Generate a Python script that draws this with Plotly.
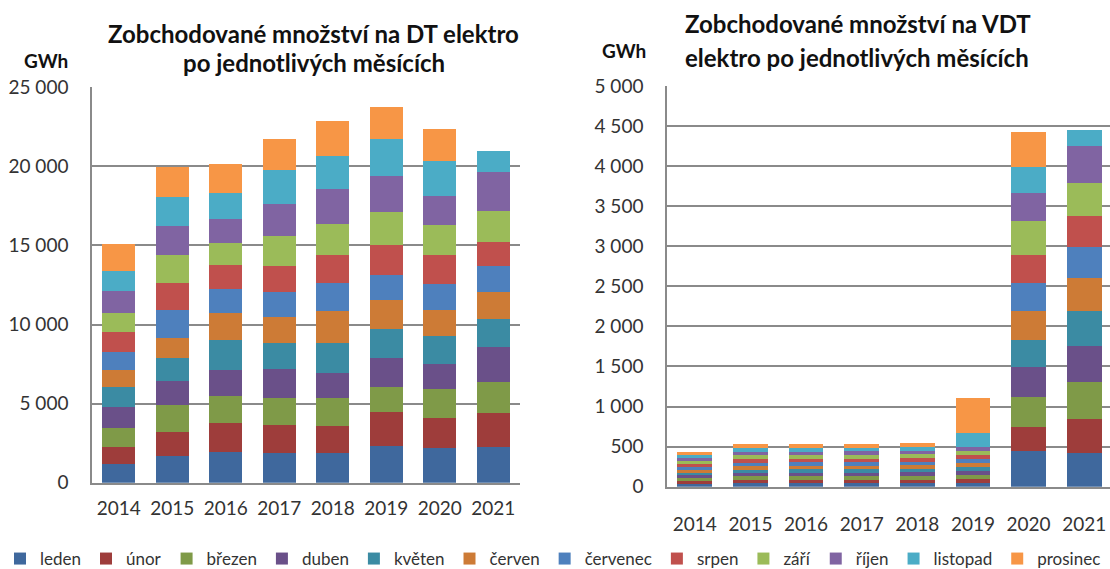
import plotly.graph_objects as go

# ---------------- data ----------------
years = ['2014', '2015', '2016', '2017', '2018', '2019', '2020', '2021']
months = ['leden', 'únor', 'březen', 'duben', 'květen', 'červen',
          'červenec', 'srpen', 'září', 'říjen', 'listopad', 'prosinec']
colors = ['#3F689D', '#9E3D3B', '#7F9A48', '#6A5089', '#3B8BA3', '#CD7B36',
          '#4E80BD', '#C0504D', '#9BBB59', '#8064A2', '#4BACC6', '#F79646']

# DT elektro (GWh), one list per month, values for 2014..2021
dt_leden    = [1160, 1688, 1962, 1878, 1878, 2321, 2194, 2258]
dt_unor     = [1118, 1519, 1836, 1772, 1709, 2131, 1920, 2131]
dt_brezen   = [1182, 1709, 1709, 1730, 1794, 1583, 1836, 2005]
dt_duben    = [1308, 1519, 1646, 1836, 1561, 1836, 1583, 2173]
dt_kveten   = [1266, 1435, 1899, 1646, 1899, 1857, 1730, 1794]
dt_cerven   = [1118, 1308, 1667, 1646, 2005, 1836, 1646, 1667]
dt_cervenec = [1118, 1751, 1519, 1519, 1772, 1583, 1667, 1646]
dt_srpen    = [1245, 1688, 1498, 1646, 1794, 1857, 1836, 1519]
dt_zari     = [1203, 1794, 1414, 1899, 1962, 2089, 1899, 1962]
dt_rijen    = [1372, 1836, 1519, 2047, 2194, 2321, 1836, 2490]
dt_listopad = [1266, 1794, 1646, 2131, 2110, 2321, 2194, 1308]
dt_prosinec = [1730, 1920, 1836, 1983, 2173, 2026, 2026, None]

# VDT elektro (GWh), one list per month, values for 2014..2021
vdt_leden    = [36, 45, 46, 44, 45, 48, 445, 416]
vdt_unor     = [34, 42, 43, 42, 44, 47, 300, 428]
vdt_brezen   = [38, 44, 44, 45, 46, 50, 370, 458]
vdt_duben    = [35, 42, 42, 44, 43, 49, 374, 458]
vdt_kveten   = [33, 40, 44, 43, 45, 48, 337, 437]
vdt_cerven   = [35, 42, 42, 42, 44, 50, 370, 404]
vdt_cervenec = [37, 46, 45, 45, 45, 51, 341, 387]
vdt_srpen    = [38, 44, 43, 44, 44, 50, 358, 391]
vdt_zari     = [36, 47, 42, 46, 47, 52, 424, 408]
vdt_rijen    = [38, 46, 44, 45, 46, 54, 349, 470]
vdt_listopad = [37, 50, 47, 48, 47, 166, 316, 196]
vdt_prosinec = [40, 40, 46, 40, 45, 437, 445, None]

dt_series = [dt_leden, dt_unor, dt_brezen, dt_duben, dt_kveten, dt_cerven,
             dt_cervenec, dt_srpen, dt_zari, dt_rijen, dt_listopad, dt_prosinec]
vdt_series = [vdt_leden, vdt_unor, vdt_brezen, vdt_duben, vdt_kveten, vdt_cerven,
              vdt_cervenec, vdt_srpen, vdt_zari, vdt_rijen, vdt_listopad, vdt_prosinec]

title_dt_1 = 'Zobchodované množství na DT elektro'
title_dt_2 = 'po jednotlivých měsících'
title_vdt_1 = 'Zobchodované množství na VDT'
title_vdt_2 = 'elektro po jednotlivých měsících'
unit = 'GWh'

# ---------------- layout helpers ----------------
W, H = 1300, 620          # page is clipped to the 1110x569 window


def px(x):
    return x / W


def py(y):
    return 1 - y / H


FONT = 'Lato'
GRID = '#8A8A8A'
TXT = '#333333'

fig = go.Figure()

for name, col, dt, vdt in zip(months, colors, dt_series, vdt_series):
    fig.add_trace(go.Bar(x=years, y=dt, name=name, marker=dict(color=col, line=dict(width=0)),
                         legendgroup=name, xaxis='x', yaxis='y'))
    fig.add_trace(go.Bar(x=years, y=vdt, name=name, marker=dict(color=col, line=dict(width=0)),
                         legendgroup=name, showlegend=False, xaxis='x2', yaxis='y2'))

axis_common_x = dict(type='category', range=[-0.5, 7.5], showgrid=False, showline=True,
                     linecolor=GRID, linewidth=1.5, ticks='', zeroline=False, automargin=False,
                     tickfont=dict(family=FONT, size=19, color=TXT), fixedrange=True)
axis_common_y = dict(showgrid=True, gridcolor=GRID, gridwidth=1.5, showline=True,
                     linecolor=GRID, linewidth=1.5, ticks='', zeroline=False, automargin=False,
                     tickformat=',d', tickfont=dict(family=FONT, size=19, color=TXT),
                     fixedrange=True)

fig.update_layout(
    width=W, height=H,
    margin=dict(l=0, r=0, t=0, b=0, autoexpand=False),
    paper_bgcolor='white', plot_bgcolor='white',
    barmode='stack', bargap=0.375,
    separators=', ',
    font=dict(family=FONT, color=TXT),
    xaxis=dict(axis_common_x, domain=[px(92), px(520)], anchor='y', ticklabelstandoff=8),
    yaxis=dict(axis_common_y, domain=[py(482.7), py(87.3)], range=[0, 25000], dtick=5000,
               anchor='x', ticklabelstandoff=18),
    xaxis2=dict(axis_common_x, domain=[px(667), px(1112)], anchor='y2', ticklabelstandoff=20),
    yaxis2=dict(axis_common_y, domain=[py(486.7), py(86)], range=[0, 5000], dtick=500,
                anchor='x2', ticklabelstandoff=18),
    showlegend=True,
    legend=dict(orientation='h', x=px(0), xanchor='left', y=py(541), yanchor='top',
                font=dict(family=FONT, size=17, color=TXT), traceorder='normal',
                itemwidth=30, bgcolor='rgba(0,0,0,0)', itemclick=False, itemdoubleclick=False),
)

ann_font_b = dict(family=FONT, size=24, color='#111111', weight='bold')
annotations = [
    dict(text=title_dt_1, x=px(313), y=py(33), xanchor='center', yanchor='middle', font=ann_font_b),
    dict(text=title_dt_2, x=px(314), y=py(63), xanchor='center', yanchor='middle', font=ann_font_b),
    dict(text=title_vdt_1, x=px(683), y=py(23), xanchor='left', yanchor='middle', font=ann_font_b),
    dict(text=title_vdt_2, x=px(683), y=py(58), xanchor='left', yanchor='middle', font=ann_font_b),
    dict(text=unit, x=px(46), y=py(60), xanchor='center', yanchor='middle',
         font=dict(family=FONT, size=19, color='#111111', weight='bold')),
    dict(text=unit, x=px(624), y=py(50), xanchor='center', yanchor='middle',
         font=dict(family=FONT, size=19, color='#111111', weight='bold')),
]
for a in annotations:
    a.update(xref='paper', yref='paper', showarrow=False)
fig.update_layout(annotations=annotations)

post = ("document.documentElement.style.margin='0';document.body.style.margin='0';"
        "document.documentElement.style.overflow='hidden';document.body.style.overflow='hidden';")
fig.write_html('out.html', include_plotlyjs=True, config={'displayModeBar': False},
               post_script=post)
